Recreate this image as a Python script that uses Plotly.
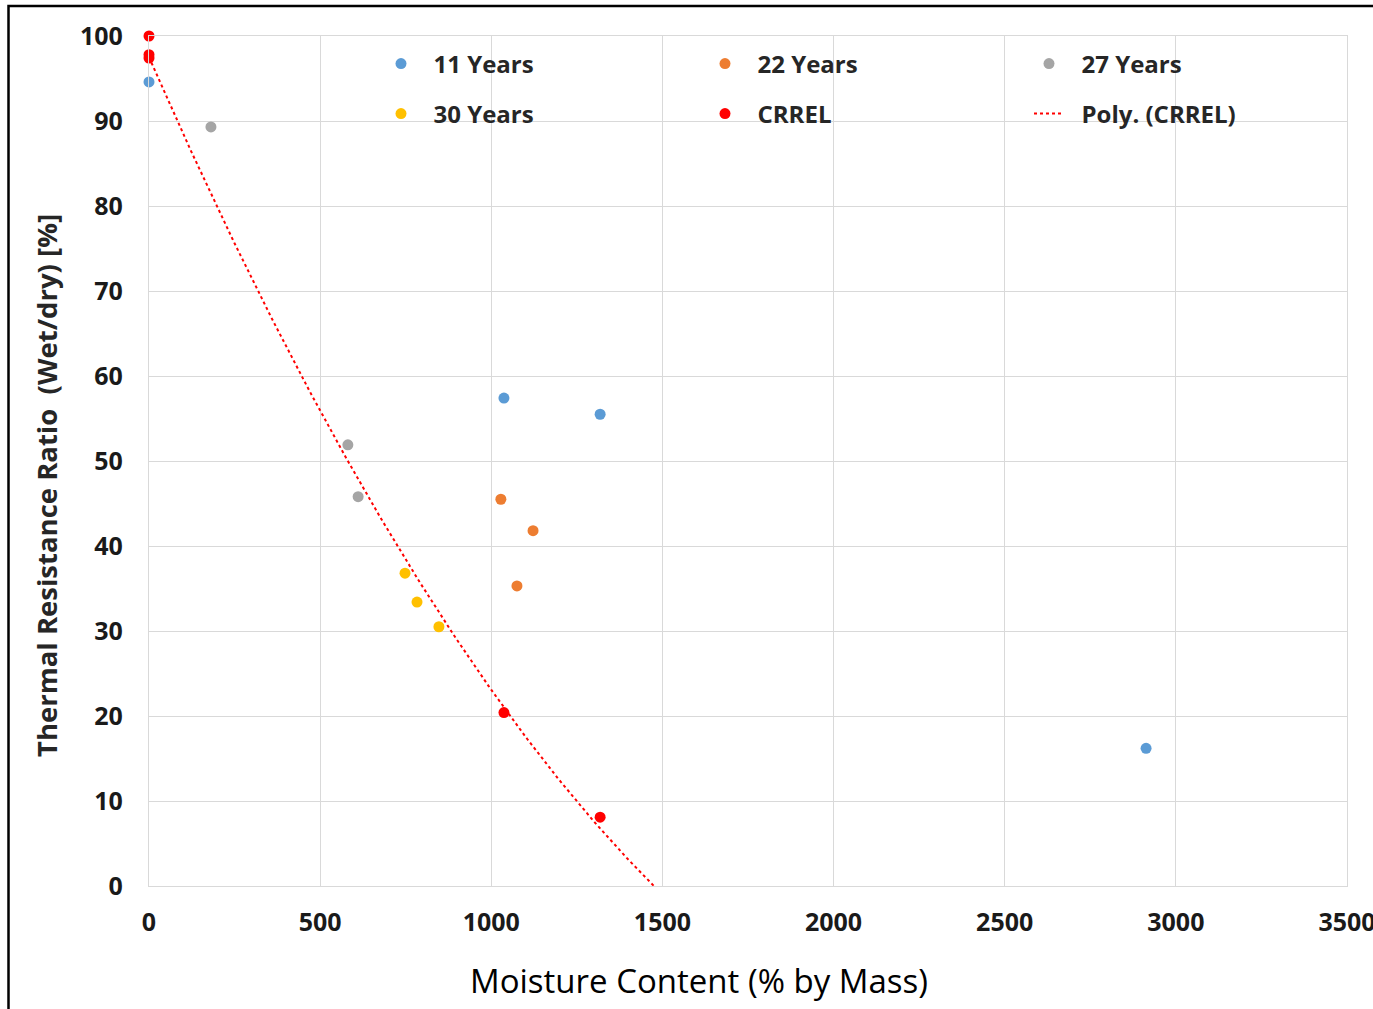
import numpy as np
import plotly.graph_objects as go

# ---- data ----
x_11 = [0, 1037, 1318, 2913]
y_11 = [94.6, 57.4, 55.5, 16.2]

x_22 = [1028, 1122, 1075]
y_22 = [45.5, 41.8, 35.3]

x_27 = [181, 581, 611]
y_27 = [89.3, 51.9, 45.8]

x_30 = [748, 783, 847]
y_30 = [36.8, 33.4, 30.5]

x_crrel = [0, 0, 0, 1037, 1318]
y_crrel = [100, 97.8, 97.4, 20.4, 8.1]

# Poly. (CRREL) trendline coefficients (order 2: a + b*x + c*x^2)
trend_a = 97.5
trend_b = -0.09194
trend_c = 1.752e-5

x_ticks = [0, 500, 1000, 1500, 2000, 2500, 3000, 3500]
y_ticks = [0, 10, 20, 30, 40, 50, 60, 70, 80, 90, 100]

# trendline evaluated from 0 to where it reaches 0
root = (-trend_b - np.sqrt(trend_b**2 - 4 * trend_c * trend_a)) / (2 * trend_c)
xt = np.linspace(0, root, 200)
yt = trend_a + trend_b * xt + trend_c * xt**2

W, H = 1373, 1009
ML, MR, MT, MB = 149, 26, 36, 123
PW, PH = W - ML - MR, H - MT - MB


def px(xp):
    return (xp - ML) / PW


def py(yp):
    return 1 - (yp - MT) / PH


FONT = "Open Sans"
TXT = "#262626"
msize = 11
NB = "\u00a0\u00a0"

fig = go.Figure()
fig.add_trace(go.Scatter(x=x_11, y=y_11, mode="markers", name=NB + "11 Years",
                         marker=dict(color="#5B9BD5", size=msize), cliponaxis=False,
                         legend="legend", legendrank=1))
fig.add_trace(go.Scatter(x=x_22, y=y_22, mode="markers", name=NB + "22 Years",
                         marker=dict(color="#ED7D31", size=msize), cliponaxis=False,
                         legend="legend", legendrank=2))
fig.add_trace(go.Scatter(x=x_27, y=y_27, mode="markers", name=NB + "27 Years",
                         marker=dict(color="#A5A5A5", size=msize), cliponaxis=False,
                         legend="legend", legendrank=3))
fig.add_trace(go.Scatter(x=xt, y=yt, mode="lines", name=NB + "Poly. (CRREL)",
                         line=dict(color="#FF0000", width=2, dash="dot"),
                         legend="legend2", legendrank=6))
fig.add_trace(go.Scatter(x=x_30, y=y_30, mode="markers", name=NB + "30 Years",
                         marker=dict(color="#FFC000", size=msize), cliponaxis=False,
                         legend="legend2", legendrank=4))
fig.add_trace(go.Scatter(x=x_crrel, y=y_crrel, mode="markers", name=NB + "CRREL",
                         marker=dict(color="#FF0000", size=msize), cliponaxis=False,
                         legend="legend2", legendrank=5))

leg_common = dict(orientation="h", xanchor="left", yanchor="middle",
                  entrywidth=279, entrywidthmode="pixels",
                  font=dict(family=FONT, size=24, color=TXT, weight="bold"),
                  bgcolor="rgba(0,0,0,0)", traceorder="normal")

tickfont = dict(family=FONT, size=25, color="#1a1a1a", weight="bold")

fig.update_layout(
    width=W, height=H,
    margin=dict(l=ML, r=MR, t=MT, b=MB, autoexpand=False),
    paper_bgcolor="white", plot_bgcolor="white",
    showlegend=True,
    legend=dict(x=px(381), y=py(64), **leg_common),
    legend2=dict(x=px(381), y=py(114), **leg_common),
    xaxis=dict(range=[0, 3500], tickvals=x_ticks, ticktext=[str(v) for v in x_ticks],
               showgrid=True, gridcolor="#D9D9D9", gridwidth=1.3,
               showline=True, linecolor="#D9D9D9", linewidth=1.3, mirror=True,
               zeroline=False, ticks="", ticklabelstandoff=14, automargin=False,
               ticklabeloverflow="allow", tickfont=tickfont),
    yaxis=dict(range=[0, 100], tickvals=y_ticks, ticktext=[str(v) for v in y_ticks],
               showgrid=True, gridcolor="#D9D9D9", gridwidth=1.3,
               showline=True, linecolor="#D9D9D9", linewidth=1.3, mirror=True,
               zeroline=False, ticks="", ticklabelstandoff=20, automargin=False,
               ticklabeloverflow="allow", tickfont=tickfont),
    annotations=[
        dict(text="Thermal Resistance Ratio  (Wet/dry) [%]", xref="paper", yref="paper",
             x=px(46), y=py(486), textangle=-90, showarrow=False,
             xanchor="center", yanchor="middle",
             font=dict(family=FONT, size=27.5, color=TXT, weight="bold")),
        dict(text="Moisture Content (% by Mass)", xref="paper", yref="paper",
             x=px(699), y=py(980), showarrow=False, xanchor="center", yanchor="middle",
             font=dict(family=FONT, size=33, color="#000000")),
    ],
    shapes=[
        dict(type="rect", xref="paper", yref="paper",
             x0=px(8.5), x1=px(1390), y0=py(1030), y1=py(6),
             line=dict(color="#000000", width=2.5), fillcolor="rgba(0,0,0,0)", layer="above"),
    ],
)

fig.write_html("out.html", config={"displayModeBar": False},
               post_script="document.body.style.margin='0';document.body.style.overflow='hidden';")
